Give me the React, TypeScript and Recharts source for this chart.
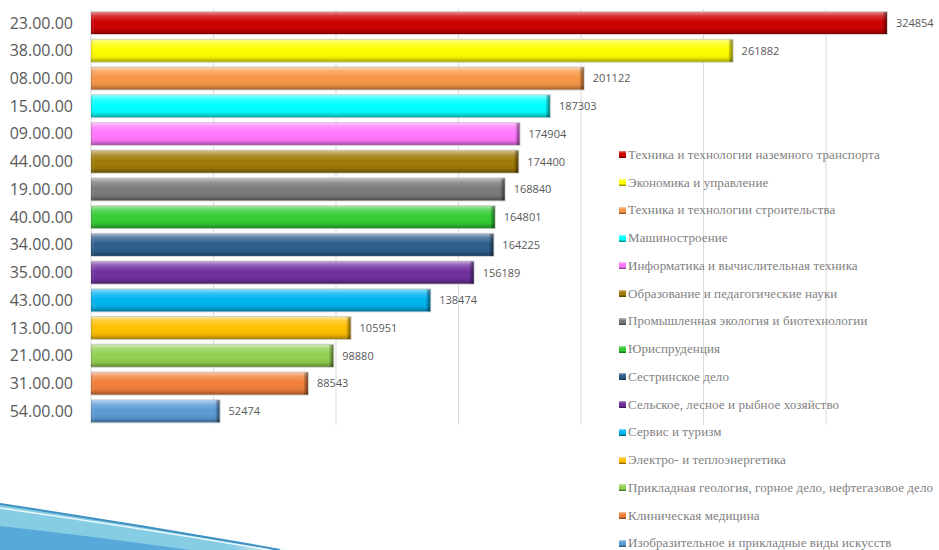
import { BarChart, Bar, XAxis, YAxis, CartesianGrid, LabelList, Cell } from 'recharts';

const codes = [
  '23.00.00', '38.00.00', '08.00.00', '15.00.00', '09.00.00',
  '44.00.00', '19.00.00', '40.00.00', '34.00.00', '35.00.00',
  '43.00.00', '13.00.00', '21.00.00', '31.00.00', '54.00.00',
];

const values = [
  324854, 261882, 201122, 187303, 174904,
  174400, 168840, 164801, 164225, 156189,
  138474, 105951, 98880, 88543, 52474,
];

const names = [
  'Техника и технологии наземного транспорта',
  'Экономика и управление',
  'Техника и технологии строительства',
  'Машиностроение',
  'Информатика и вычислительная техника',
  'Образование и педагогические науки',
  'Промышленная экология и биотехнологии',
  'Юриспруденция',
  'Сестринское дело',
  'Сельское, лесное и рыбное хозяйство',
  'Сервис и туризм',
  'Электро- и теплоэнергетика',
  'Прикладная геология, горное дело, нефтегазовое дело',
  'Клиническая медицина',
  'Изобразительное и прикладные виды искусств',
];

const colors = [
  '#CC0000', '#FFFF00', '#F79646', '#00FFFF', '#FF77FF',
  '#A07A06', '#7A7A7A', '#33CC33', '#2E5E8C', '#7030A0',
  '#00B4F0', '#FFC000', '#92D050', '#F07F3A', '#5B9BD5',
];

const xTicks = [0, 50000, 100000, 150000, 200000, 250000, 300000, 350000];

const data = codes.map((code, i) => ({ code, value: values[i], name: names[i], color: colors[i] }));

const BevelBar = (props: any) => {
  const { x, y, width, height, fill } = props;
  if (!width || width <= 0) return null;
  return (
    <g>
      <rect x={x} y={y - 1} width={width + 1} height={height + 2} fill="#D0D0D0" />
      <rect x={x} y={y} width={width} height={height} fill={fill} />
      <rect x={x} y={y} width={width} height={height} fill="url(#bevelV)" />
      <rect x={x} y={y} width={3} height={height} fill="url(#bevelL)" />
      <rect x={x + width - 4} y={y} width={4} height={height} fill="url(#bevelR)" />
    </g>
  );
};

// legend drawn as html next to the chart (recharts legend would eat the plot height)
const LegendList = () => (
  <div
    style={{
      position: 'absolute', left: 619, top: 141,
      fontFamily: '"Liberation Serif", serif', fontSize: 13, color: '#7F7F7F',
    }}
  >
    {data.map((d) => (
      <div key={d.code} style={{ height: 27.75, display: 'flex', alignItems: 'center', whiteSpace: 'nowrap' }}>
        <span
          style={{
            display: 'inline-block', width: 7, height: 7, marginRight: 2,
            background: `linear-gradient(180deg, rgba(255,255,255,0.5), ${d.color} 35%, ${d.color} 65%, rgba(0,0,0,0.5))`,
            backgroundColor: d.color,
          }}
        />
        <span style={{ letterSpacing: 0.1 }}>{d.name}</span>
      </div>
    ))}
  </div>
);

export default function App() {
  return (
    <div style={{ position: 'absolute', left: 0, top: 0, width: 939, height: 550, overflow: 'hidden', background: '#fff' }}>
      <BarChart
        width={950}
        height={550}
        data={data}
        layout="vertical"
        margin={{ top: 9, right: 1.5, left: 0, bottom: 125 }}
      >
        <defs>
          <linearGradient id="bevelV" x1="0" y1="0" x2="0" y2="1">
            <stop offset="0%" stopColor="#fff" stopOpacity={0.55} />
            <stop offset="18%" stopColor="#fff" stopOpacity={0.2} />
            <stop offset="45%" stopColor="#fff" stopOpacity={0} />
            <stop offset="80%" stopColor="#000" stopOpacity={0.06} />
            <stop offset="100%" stopColor="#000" stopOpacity={0.35} />
          </linearGradient>
          <linearGradient id="bevelL" x1="0" y1="0" x2="1" y2="0">
            <stop offset="0%" stopColor="#000" stopOpacity={0.15} />
            <stop offset="100%" stopColor="#fff" stopOpacity={0.1} />
          </linearGradient>
          <linearGradient id="bevelR" x1="0" y1="0" x2="1" y2="0">
            <stop offset="0%" stopColor="#000" stopOpacity={0.1} />
            <stop offset="100%" stopColor="#000" stopOpacity={0.5} />
          </linearGradient>
        </defs>
        <CartesianGrid horizontal={false} stroke="#D9D9D9" />
        <XAxis type="number" domain={[0, 350000]} ticks={xTicks} hide />
        <YAxis
          type="category"
          dataKey="code"
          width={91}
          axisLine={false}
          tickLine={false}
          tickMargin={12}
          tick={{ fontSize: 16, fill: '#595959', fontFamily: '"Open Sans", sans-serif' }}
        />
        <Bar dataKey="value" barSize={22} isAnimationActive={false} shape={<BevelBar />}>
          {data.map((d) => (
            <Cell key={d.code} fill={d.color} />
          ))}
          <LabelList
            dataKey="value"
            position="right"
            offset={9}
            style={{ fontSize: 11, fill: '#595959', fontFamily: '"Open Sans", sans-serif' }}
          />
        </Bar>
      </BarChart>
      <LegendList />
      <svg width={360} height={60} style={{ position: 'absolute', left: 0, bottom: 0 }}>
        <defs>
          <linearGradient id="swooshFade" x1="0" y1="0" x2="1" y2="0">
            <stop offset="0%" stopColor="#86CCE3" />
            <stop offset="80%" stopColor="#86CCE3" />
            <stop offset="100%" stopColor="#86CCE3" stopOpacity={0} />
          </linearGradient>
        </defs>
        <path d="M0 14 Q140 35 290 60 L0 60 Z" fill="url(#swooshFade)" />
        <path d="M0 14 Q140 35 280 60" fill="none" stroke="#3F8FC0" strokeWidth={2} />
        <path d="M0 18 Q140 38 270 60" fill="none" stroke="#EAF6FB" strokeWidth={1.5} />
        <path d="M0 36 Q90 46 190 60 L0 60 Z" fill="#4FA2D8" opacity={0.85} />
      </svg>
    </div>
  );
}
